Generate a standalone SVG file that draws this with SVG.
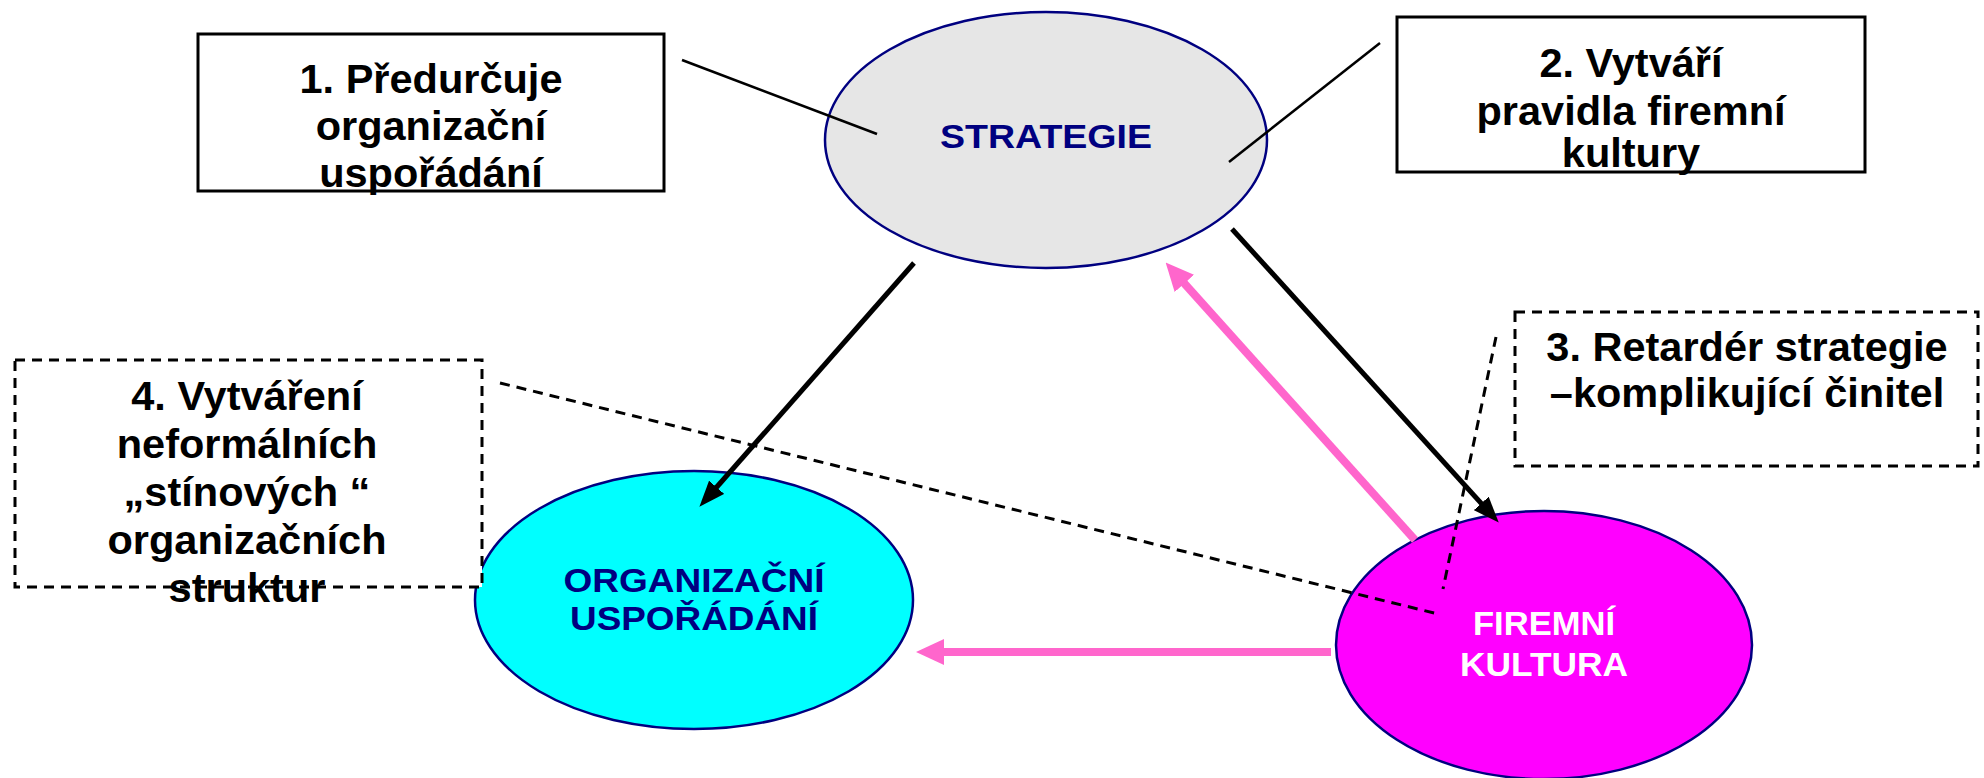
<svg xmlns="http://www.w3.org/2000/svg" width="1984" height="778" viewBox="0 0 1984 778">
  <style>
    .node-ellipse { stroke: #000080; stroke-width: 2.5; }
    .ell-label { font-family: "Liberation Sans", Arial, sans-serif; font-weight: bold; font-size: 33px; text-anchor: middle; }
    .box { fill: #ffffff; stroke: #000000; stroke-width: 3; }
    .box-dashed { fill: #ffffff; stroke: #000000; stroke-width: 3; stroke-dasharray: 10 7; }
    .box-label { font-family: "Liberation Sans", Arial, sans-serif; font-weight: bold; font-size: 41.5px; text-anchor: middle; fill: #000000; }
    .callout { stroke: #000000; stroke-width: 2.5; fill: none; }
    .callout-dashed { stroke: #000000; stroke-width: 3; fill: none; stroke-dasharray: 10 7; }
    .arrow-black { stroke: #000000; stroke-width: 5; fill: none; marker-end: url(#head-black); }
    .arrow-pink { stroke: #ff66cc; stroke-width: 8; fill: none; marker-end: url(#head-pink); }
  </style>
  <defs>
    <marker id="head-black" markerUnits="userSpaceOnUse" viewBox="0 0 26 20" refX="13" refY="10" markerWidth="26" markerHeight="20" orient="auto">
      <path d="M0,0 L26,10 L0,20 Z" fill="#000000"/>
    </marker>
    <marker id="head-pink" markerUnits="userSpaceOnUse" viewBox="0 0 28 26" refX="14" refY="13" markerWidth="28" markerHeight="26" orient="auto">
      <path d="M0,0 L28,13 L0,26 Z" fill="#ff66cc"/>
    </marker>
  </defs>

  <rect x="0" y="0" width="1984" height="778" fill="#ffffff"/>

  <!-- main nodes -->
  <g id="strategie">
    <ellipse class="node-ellipse" cx="1046" cy="140" rx="221" ry="128" fill="#e6e6e6"/>
    <text class="ell-label" x="1046" y="148" fill="#000080" textLength="212" lengthAdjust="spacingAndGlyphs">STRATEGIE</text>
  </g>
  <g id="organizacni-usporadani">
    <ellipse class="node-ellipse" cx="694" cy="600" rx="219" ry="129" fill="#00ffff"/>
    <text class="ell-label" x="694" y="592" fill="#000080" textLength="261" lengthAdjust="spacingAndGlyphs">ORGANIZAČNÍ</text>
    <text class="ell-label" x="694" y="630" fill="#000080" textLength="248" lengthAdjust="spacingAndGlyphs">USPOŘÁDÁNÍ</text>
  </g>
  <g id="firemni-kultura">
    <ellipse class="node-ellipse" cx="1544" cy="645" rx="208" ry="134" fill="#ff00ff"/>
    <text class="ell-label" x="1544" y="635" fill="#ffffff" textLength="142" lengthAdjust="spacingAndGlyphs">FIREMNÍ</text>
    <text class="ell-label" x="1544" y="676" fill="#ffffff" textLength="168" lengthAdjust="spacingAndGlyphs">KULTURA</text>
  </g>

  <!-- connectors -->
  <g id="connectors">
    <line class="callout" x1="682" y1="60" x2="877" y2="134"/>
    <line class="callout" x1="1380" y1="43" x2="1229" y2="162"/>
    <line class="callout-dashed" x1="500" y1="383" x2="1438" y2="614"/>
    <line class="callout-dashed" x1="1496" y1="337" x2="1443" y2="589"/>
    <line class="arrow-black" x1="914" y1="263" x2="708" y2="497"/>
    <line class="arrow-black" x1="1232" y1="229" x2="1490" y2="513"/>
    <line class="arrow-pink" x1="1415" y1="540" x2="1175" y2="273"/>
    <line class="arrow-pink" x1="1331" y1="652" x2="930" y2="652"/>
  </g>

  <!-- annotation boxes -->
  <g id="box-1">
    <rect class="box" x="198" y="34" width="466" height="157"/>
    <text class="box-label" x="431" y="93">1. Předurčuje</text>
    <text class="box-label" x="431" y="140">organizační</text>
    <text class="box-label" x="431" y="187">uspořádání</text>
  </g>
  <g id="box-2">
    <rect class="box" x="1397" y="17" width="468" height="155"/>
    <text class="box-label" x="1631" y="77">2. Vytváří</text>
    <text class="box-label" x="1631" y="125">pravidla firemní</text>
    <text class="box-label" x="1631" y="167">kultury</text>
  </g>
  <g id="box-3">
    <rect class="box-dashed" x="1515" y="312" width="463" height="154"/>
    <text class="box-label" x="1747" y="361">3. Retardér strategie</text>
    <text class="box-label" x="1747" y="407">–komplikující činitel</text>
  </g>
  <g id="box-4">
    <rect class="box-dashed" x="15" y="360" width="467" height="227"/>
    <text class="box-label" x="247" y="410">4. Vytváření</text>
    <text class="box-label" x="247" y="458">neformálních</text>
    <text class="box-label" x="247" y="506">„stínových “</text>
    <text class="box-label" x="247" y="554">organizačních</text>
    <text class="box-label" x="247" y="602">struktur</text>
  </g>
</svg>
